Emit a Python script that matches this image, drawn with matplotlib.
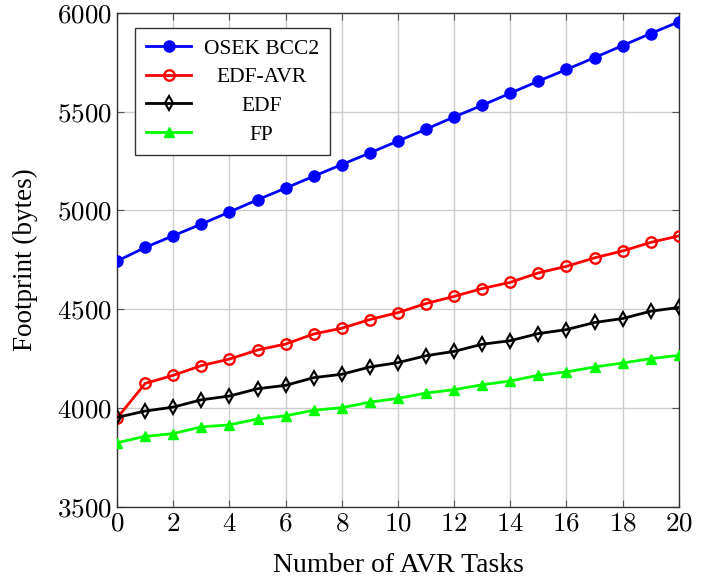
import numpy as np
import matplotlib
matplotlib.use("Agg")
import matplotlib.pyplot as plt
from matplotlib.ticker import FuncFormatter

plt.rcParams['font.family'] = ['Liberation Serif', 'DejaVu Serif']
plt.rcParams['mathtext.fontset'] = 'cm'

# data
tasks = list(range(21))
osek = [4744, 4813, 4872, 4931, 4992, 5054, 5113, 5173, 5232, 5291, 5351,
        5411, 5473, 5532, 5593, 5654, 5713, 5773, 5834, 5895, 5954]
edf_avr = [3950, 4125, 4166, 4215, 4248, 4294, 4324, 4375, 4404, 4448, 4483,
           4529, 4565, 4605, 4636, 4684, 4717, 4760, 4795, 4838, 4871]
edf = [3953, 3985, 4005, 4042, 4061, 4098, 4115, 4154, 4171, 4208, 4230,
       4265, 4287, 4323, 4341, 4377, 4397, 4433, 4453, 4490, 4509]
fp = [3825, 3857, 3871, 3905, 3915, 3945, 3961, 3989, 4002, 4030, 4049,
      4076, 4093, 4118, 4137, 4166, 4183, 4208, 4228, 4250, 4267]

fig = plt.figure(figsize=(7.1, 5.8), dpi=100)
ax = fig.add_axes([0.165, 0.126, 0.791, 0.852])

ax.plot(tasks, osek, color=(0, 0, 1), lw=2, marker='o', ms=8,
        label='OSEK BCC2', zorder=3)
ax.plot(tasks, edf_avr, color=(1, 0, 0), lw=2, marker='o', ms=7.5,
        mfc='none', mew=1.7, label='EDF-AVR', zorder=3)
ax.plot(tasks, edf, color='black', lw=2, marker='d', ms=7,
        mfc='none', mew=1.5, label='EDF', zorder=3)
ax.plot(tasks, fp, color=(0, 1, 0), lw=2, marker='^', ms=7.5,
        label='FP', zorder=3)

ax.set_xlim(0, 20)
ax.set_ylim(3500, 6000)
ax.set_xticks(range(0, 21, 2))
ax.set_yticks(range(3500, 6001, 500))
math_fmt = FuncFormatter(lambda v, p: r'$%d$' % v)
ax.xaxis.set_major_formatter(math_fmt)
ax.yaxis.set_major_formatter(math_fmt)
ax.tick_params(direction='in', top=True, right=True, length=5,
               labelsize=19.5, color='#555555')
ax.grid(True, color='#cccccc', lw=1)
ax.set_axisbelow(True)
for s in ax.spines.values():
    s.set_linewidth(1)
    s.set_color('#333333')

ax.set_xlabel('Number of AVR Tasks', fontsize=20, labelpad=12)
ax.set_ylabel('Footprint (bytes)', fontsize=19.5, labelpad=14)

leg = ax.legend(loc='upper left', bbox_to_anchor=(18 / 562, 1 - 15 / 494),
                borderaxespad=0, fontsize=15.5, fancybox=False,
                edgecolor='#333333', framealpha=1, handlelength=2.1,
                borderpad=0.5, labelspacing=0.4, handletextpad=0.6)
leg.get_frame().set_linewidth(1)

# centre the legend labels like pgfplots does
fig.canvas.draw()
r = fig.canvas.get_renderer()
texts = leg.get_texts()
widths = [t.get_window_extent(r).width for t in texts]
for t, w in zip(texts, widths):
    t.set_x((max(widths) - w) / 2)

fig.savefig('out.png', dpi=100)
